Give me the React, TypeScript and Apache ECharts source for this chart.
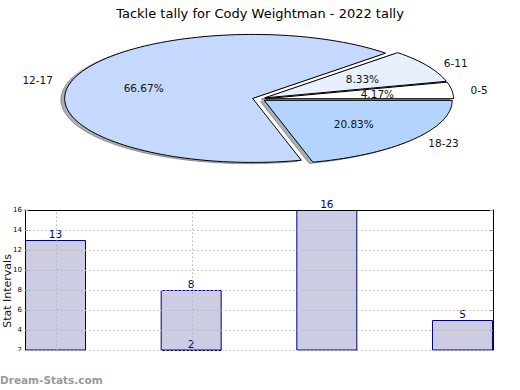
import React, { useEffect, useRef } from "react";
import * as echarts from "echarts";

const TITLE = "Tackle tally for Cody Weightman - 2022 tally";
const pieLabels = ["0-5", "6-11", "12-17", "18-23"];
const pieValues = [1, 2, 16, 5];
const pieColors = ["#ffffff", "#e8f0fe", "#c5d8fd", "#b3d4fe"];

const barValues = [13, 8, 16, 5];
const barLowValues = [null, 2, null, null];
const yMin = 2;
const yMax = 16;
const yStep = 2;
const gridYValues = [2, 4, 6, 8, 10, 12, 14];
const vGridBars = [0, 1];

const FONT = "DejaVu Sans";
const PCX = 259;
const PCY = 99;
const RX = 188;
const RY = 64;
const EXPLODE = 0.035;
const BAR_OFF = 0.225;

const total = pieValues.reduce((a, b) => a + b, 0);
const startAngles: number[] = [];
{
  let acc = 0;
  for (const v of pieValues) {
    startAngles.push(acc);
    acc += (v / total) * 360;
  }
}

function wedgePoints(cx: number, cy: number, a1: number, a2: number) {
  const pts: number[][] = [[cx, cy]];
  const n = Math.max(8, Math.ceil((a2 - a1) / 2));
  for (let k = 0; k <= n; k++) {
    const t = ((a1 + ((a2 - a1) * k) / n) * Math.PI) / 180;
    pts.push([cx + RX * Math.cos(t), cy - RY * Math.sin(t)]);
  }
  return pts;
}

function hexToRgb(h: string) {
  const n = parseInt(h.slice(1), 16);
  return [(n >> 16) & 255, (n >> 8) & 255, n & 255];
}

function renderPie(params: any) {
  const i = params.dataIndex;
  const a1 = startAngles[i];
  const a2 = a1 + (pieValues[i] / total) * 360;
  const mid = ((a1 + a2) / 2) * Math.PI / 180;
  const cx = PCX + Math.cos(mid) * EXPLODE * RX;
  const cy = PCY - Math.sin(mid) * EXPLODE * RY;
  const pts = wedgePoints(cx, cy, a1, a2);
  const spts = pts.map((p) => [p[0] - 0.02 * RX, p[1] + 0.02 * RY]);
  const [r, g, b] = hexToRgb(pieColors[i]);
  const sc = `rgba(${Math.round(r * 0.3)},${Math.round(g * 0.3)},${Math.round(b * 0.3)},0.42)`;
  const cosm = Math.cos(mid);
  return {
    type: "group",
    children: [
      {
        type: "polygon",
        z2: 0,
        shape: { points: spts },
        style: { fill: sc, stroke: sc, lineWidth: 1 },
      },
      {
        type: "polygon",
        z2: 5,
        shape: { points: pts },
        style: { fill: pieColors[i], stroke: "#000", lineWidth: 1, lineJoin: "miter" },
      },
      {
        type: "text",
        z2: 10,
        x: cx + 0.6 * RX * Math.cos(mid),
        y: cy - 0.6 * RY * Math.sin(mid),
        style: {
          text: ((pieValues[i] / total) * 100).toFixed(2) + "%",
          fontFamily: FONT,
          fontSize: 10.5,
          fill: "#111",
          align: "center",
          verticalAlign: "middle",
        },
      },
      {
        type: "text",
        z2: 10,
        x: cx + 1.1 * RX * cosm,
        y: cy - 1.1 * RY * Math.sin(mid),
        style: {
          text: pieLabels[i],
          fontFamily: FONT,
          fontSize: 10.5,
          fill: "#111",
          align: cosm >= 0 ? "left" : "right",
          verticalAlign: "middle",
        },
      },
    ],
  };
}

export default function App() {
  const ref = useRef<HTMLDivElement>(null);
  useEffect(() => {
    if (!ref.current) return;
    const chart = echarts.init(ref.current, null, { renderer: "svg" });
    const barData = barValues.map((v, i) => [i + BAR_OFF, v]);
    const lowData = barLowValues
      .map((v, i) => (v === null ? null : [i + BAR_OFF, v]))
      .filter((d) => d !== null);
    const barStyle = { color: "#ccccE2", borderColor: "#000080", borderWidth: 1 };
    const labelStyle = {
      show: true,
      position: "top" as const,
      distance: 1,
      color: "#000080",
      fontFamily: FONT,
      fontSize: 10.5,
    };
    const gridLine = { color: "#b4b4b4", type: [1.5, 2.5], width: 1 };
    chart.setOption({
      animation: false,
      title: {
        text: TITLE,
        left: "center",
        top: 2,
        textStyle: { fontFamily: FONT, fontSize: 13, fontWeight: "normal", color: "#000" },
      },
      grid: { left: 25, top: 210, width: 468, height: 140, containLabel: false },
      xAxis: {
        type: "value",
        position: "top",
        min: 0,
        max: barValues.length - 1 + 2 * BAR_OFF,
        z: 10,
        axisLine: { show: true, lineStyle: { color: "#000", width: 1 } },
        axisTick: { show: false },
        axisLabel: { show: false },
        splitLine: { show: false },
      },
      yAxis: [
        {
          type: "value",
          min: yMin,
          max: yMax,
          interval: yStep,
          z: 10,
          axisLine: { show: true, lineStyle: { color: "#000", width: 1 } },
          axisTick: { show: true, inside: true, length: 3, lineStyle: { color: "#999" } },
          axisLabel: { fontFamily: FONT, fontSize: 7, color: "#000", margin: 3 },
          splitLine: { show: false },
        },
        {
          type: "value",
          position: "right",
          min: yMin,
          max: yMax,
          interval: yStep,
          z: 10,
          axisLine: { show: true, lineStyle: { color: "#000", width: 1 } },
          axisTick: { show: true, inside: true, length: 3, lineStyle: { color: "#999" } },
          axisLabel: { show: false },
          splitLine: { show: false },
        },
      ],
      series: [
        {
          type: "custom",
          coordinateSystem: "none",
          renderItem: renderPie,
          data: pieValues,
          silent: true,
        },
        {
          type: "bar",
          data: barData,
          barWidth: 61,
          barGap: "-100%",
          itemStyle: barStyle,
          label: labelStyle,
          markLine: {
            silent: true,
            symbol: "none",
            label: { show: false },
            lineStyle: gridLine,
            data: [
              ...vGridBars.map((i) => ({ xAxis: i + BAR_OFF })),
              ...gridYValues.map((v) => ({ yAxis: v })),
            ],
          },
        },
        {
          type: "bar",
          data: lowData,
          barWidth: 61,
          barGap: "-100%",
          clip: false,
          itemStyle: barStyle,
          label: labelStyle,
        },
      ],
      graphic: [
        {
          type: "rect",
          z: 100,
          shape: { x: 0, y: 351, width: 520, height: 39 },
          style: { fill: "#fff" },
        },
        {
          type: "text",
          z: 101,
          x: 7,
          y: 291,
          rotation: Math.PI / 2,
          style: {
            text: "Stat Intervals",
            fontFamily: FONT,
            fontSize: 11,
            fill: "#111",
            align: "center",
            verticalAlign: "middle",
          },
        },
        {
          type: "text",
          z: 101,
          x: 0,
          y: 380,
          style: {
            text: "Dream-Stats.com",
            fontFamily: FONT,
            fontSize: 10.5,
            fontWeight: "bold",
            fill: "#999",
            align: "left",
            verticalAlign: "middle",
          },
        },
      ],
    });
    return () => chart.dispose();
  }, []);
  return (
    <div
      ref={ref}
      style={{ position: "fixed", left: 0, top: 0, width: 520, height: 390, background: "#fff" }}
    />
  );
}
